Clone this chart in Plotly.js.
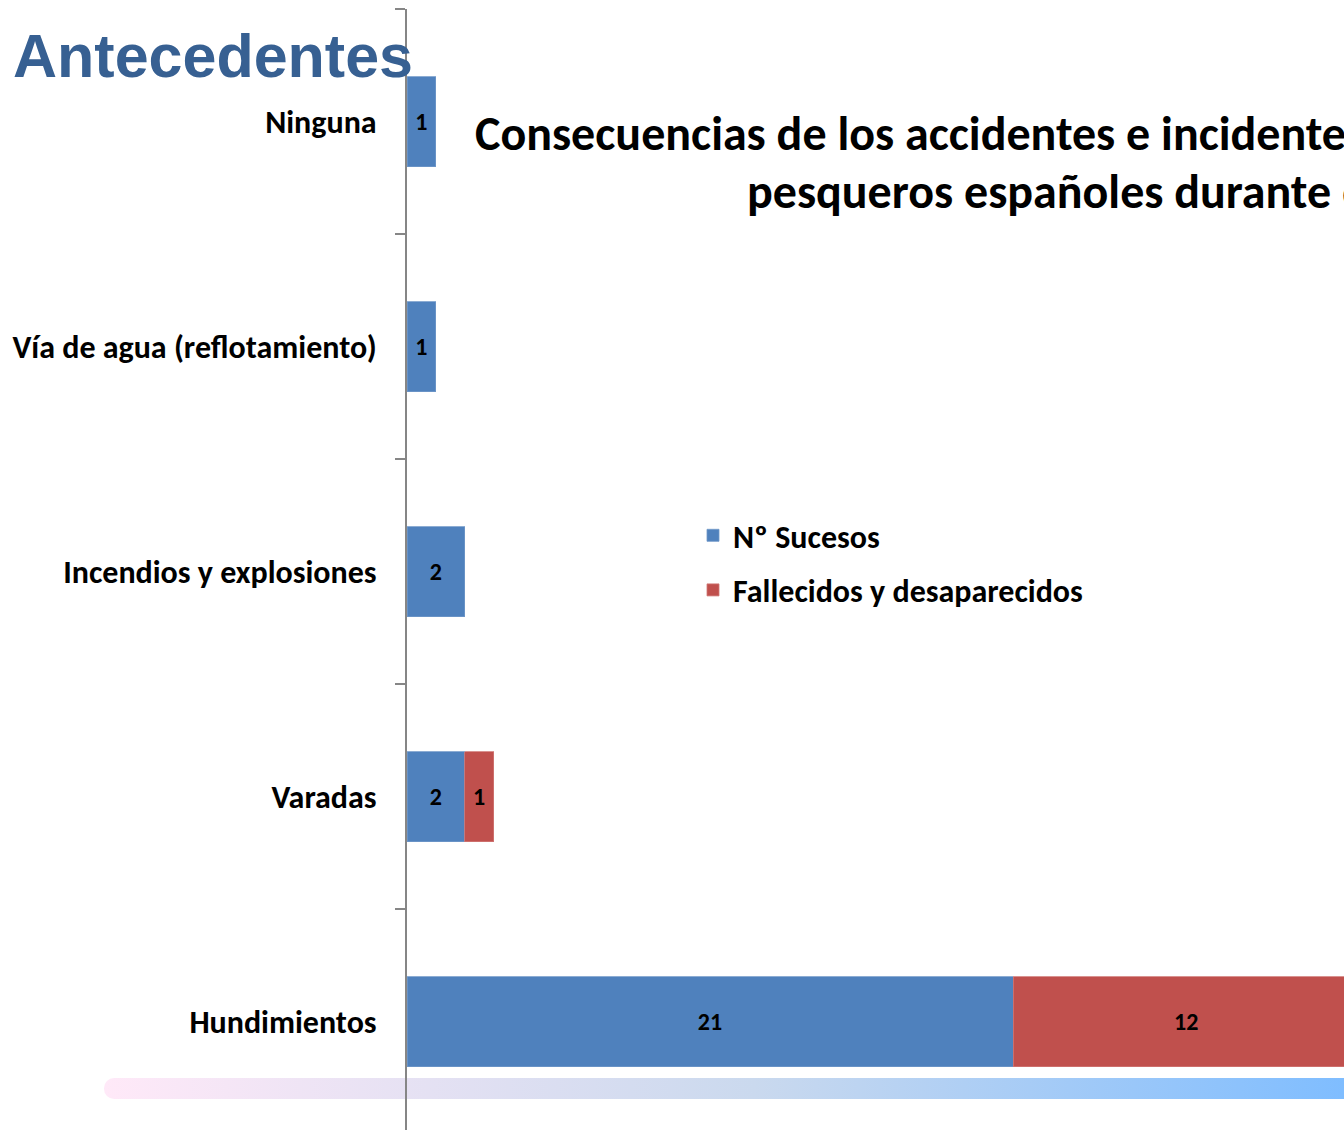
<!DOCTYPE html>
<html>
<head>
<meta charset="utf-8">
<script src="https://cdn.plot.ly/plotly-3.0.1.min.js"></script>
<style>
  html, body { margin: 0; padding: 0; background: #fff; }
  #chart { width: 1344px; height: 1130px; }
</style>
</head>
<body>
<div id="chart"></div>
<script>
// ---- data ----
const categories = ['Ninguna', 'Vía de agua (reflotamiento)', 'Incendios y explosiones', 'Varadas', 'Hundimientos'];
const sucesos = [1, 1, 2, 2, 21];
const fallecidos = [null, null, null, 1, 12];
const seriesNames = ['Nº Sucesos', 'Fallecidos y desaparecidos'];
const headerText = 'Antecedentes';
const titleLine1 = 'Consecuencias de los accidentes e incidentes marítimos de buques';
const titleLine2 = 'pesqueros españoles durante el año 2009';

const FONT = 'Carlito, "Open Sans", Lato, sans-serif';

const W = 1344, H = 1130;
const mL = 407, mT = 9, mR = 0, mB = 0;
const plotW = W - mL - mR, plotH = H - mT - mB;
const px = (x) => (x - mL) / plotW;
const py = (y) => (H - mB - y) / plotH;

const gradSvg = '<svg xmlns="http://www.w3.org/2000/svg" width="1300" height="21" viewBox="0 0 1300 21">' +
  '<defs><linearGradient id="g" x1="0" y1="0" x2="1300" y2="0" gradientUnits="userSpaceOnUse">' +
  '<stop offset="0" stop-color="#ffe9f8"/><stop offset="0.5" stop-color="#cad9ee"/>' +
  '<stop offset="0.954" stop-color="#7fbdff"/><stop offset="1" stop-color="#7abaff"/></linearGradient></defs>' +
  '<rect x="0" y="0" width="1300" height="21" rx="10" ry="10" fill="url(#g)"/>' +
  '<rect x="20" y="0" width="1280" height="21" fill="url(#g)"/></svg>';
const gradUri = 'data:image/svg+xml;charset=utf-8,' + encodeURIComponent(gradSvg);

const labelFont = { family: FONT, size: 24, color: '#000000', weight: 'bold' };

const traces = [
  {
    type: 'bar', orientation: 'h', name: seriesNames[0], legendgroup: 'a',
    y: categories, x: sucesos,
    marker: { color: '#4f81bd', line: { color: '#6f97c8', width: 0.8 } },
    text: sucesos.map(v => v == null ? '' : String(v)),
    textposition: 'inside', insidetextanchor: 'middle', textangle: 0,
    insidetextfont: labelFont, constraintext: 'none',
    hoverinfo: 'x+y+name'
  },
  {
    type: 'bar', orientation: 'h', name: seriesNames[1], legendgroup: 'b',
    y: categories, x: fallecidos,
    marker: { color: '#c0504d', line: { color: '#cf7774', width: 0.8 } },
    text: fallecidos.map(v => v == null ? '' : String(v)),
    textposition: 'inside', insidetextanchor: 'middle', textangle: 0,
    insidetextfont: labelFont, constraintext: 'none',
    hoverinfo: 'x+y+name'
  }
];

const layout = {
  width: W, height: H,
  margin: { l: mL, r: mR, t: mT, b: mB, pad: 0 },
  paper_bgcolor: '#ffffff',
  plot_bgcolor: 'rgba(0,0,0,0)',
  barmode: 'stack',
  bargap: 0.6,
  showlegend: true,
  legend: {
    x: px(693), xanchor: 'left',
    y: py(508), yanchor: 'top',
    traceorder: 'grouped',
    tracegroupgap: 10,
    font: { family: FONT, size: 32, color: '#000000', weight: 'bold' },
    bgcolor: 'rgba(0,0,0,0)', borderwidth: 0
  },
  xaxis: {
    range: [0, plotW / 28.86],
    showgrid: false, zeroline: false, showline: false,
    showticklabels: false, ticks: '', fixedrange: true
  },
  yaxis: {
    type: 'category',
    range: [4.5 + (plotH / 225 - 5), -0.5],
    showgrid: false, zeroline: false,
    showline: true, linecolor: '#868686', linewidth: 2,
    ticks: 'outside', ticklen: 10, tickwidth: 2, tickcolor: '#868686',
    tickson: 'boundaries',
    ticklabelstandoff: 22,
    tickfont: { family: FONT, size: 32, color: '#000000', weight: 'bold' },
    fixedrange: true
  },
  images: [{
    source: gradUri, xref: 'paper', yref: 'paper',
    x: px(104), y: py(1078), sizex: 1300 / plotW, sizey: 21 / plotH,
    xanchor: 'left', yanchor: 'top', sizing: 'stretch', layer: 'below'
  }],
  annotations: [
    {
      text: headerText, xref: 'paper', yref: 'paper',
      x: px(11), y: py(56), xanchor: 'left', yanchor: 'middle',
      showarrow: false,
      font: { family: '"Liberation Sans", Arial, sans-serif', size: 61, color: '#376092', weight: 'bold' }
    },
    {
      text: titleLine1, xref: 'paper', yref: 'paper',
      x: px(473), y: py(133), xanchor: 'left', yanchor: 'middle',
      showarrow: false,
      font: { family: FONT, size: 48, color: '#000000', weight: 'bold' }
    },
    {
      text: titleLine2, xref: 'paper', yref: 'paper',
      x: px(745), y: py(191), xanchor: 'left', yanchor: 'middle',
      showarrow: false,
      font: { family: FONT, size: 48, color: '#000000', weight: 'bold' }
    }
  ]
};

Plotly.newPlot('chart', traces, layout, { displayModeBar: false, staticPlot: true });
</script>
</body>
</html>
